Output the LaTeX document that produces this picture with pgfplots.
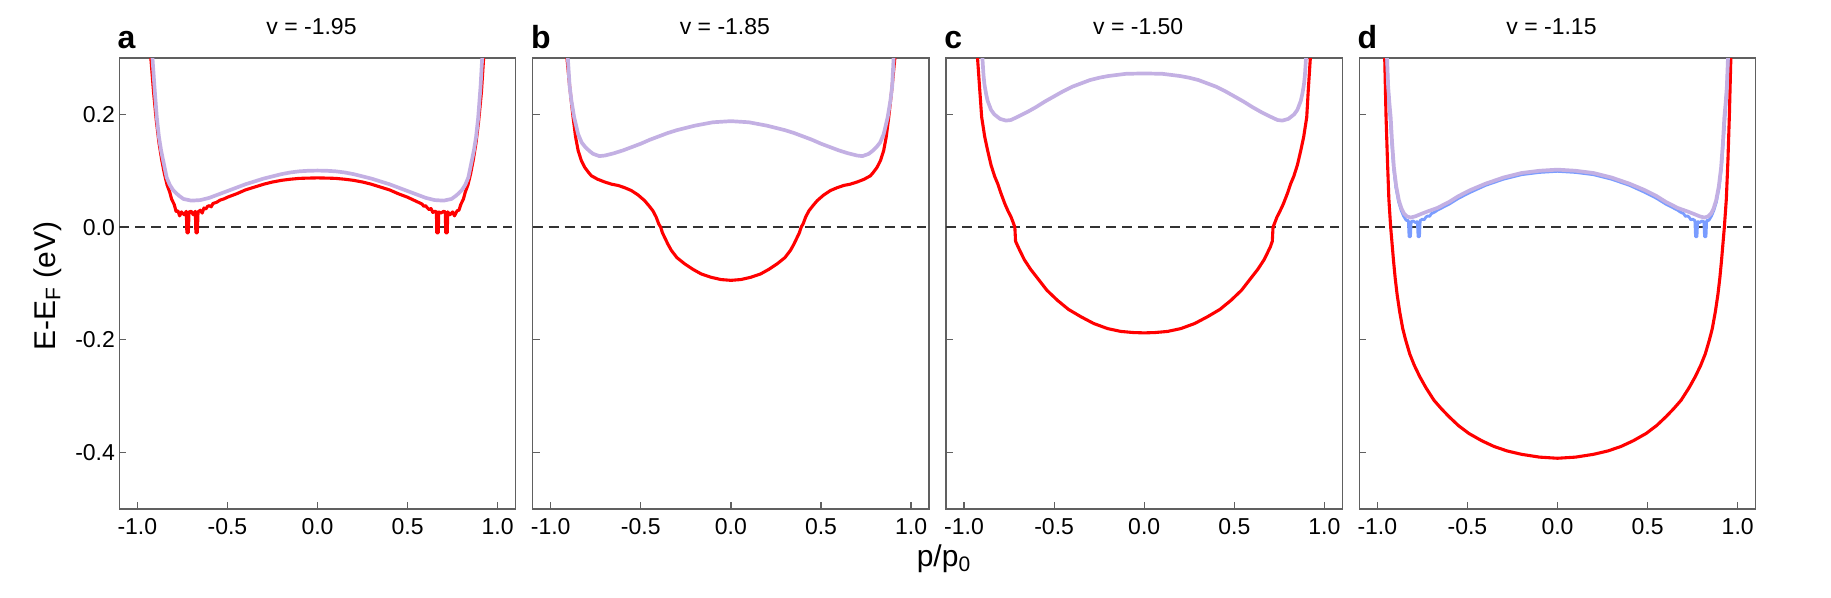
\documentclass[border=0pt]{standalone}
\usepackage{fontspec}
\setmainfont{Liberation Sans}
\usepackage{pgfplots}
\pgfplotsset{compat=1.18}
\definecolor{bandred}{HTML}{FF0000}
\definecolor{lav}{HTML}{C3B0E3}
\definecolor{bandblue}{HTML}{7A9CFF}
\definecolor{axgray}{HTML}{606060}
\pgfplotsset{
  panel/.style={
    scale only axis, width=198.2pt, height=225.5pt,
    anchor=south west,
    xmin=-1.1, xmax=1.1, ymin=-0.5, ymax=0.3,
    xtick={-1,-0.5,0,0.5,1}, xticklabels={-1.0,-0.5,0.0,0.5,1.0},
    ytick={-0.4,-0.2,0,0.2}, yticklabels={},
    tick align=inside, xtick pos=bottom, ytick pos=left,
    major tick length=3.5pt,
    axis line style={draw=axgray, line width=0.7pt},
    tick style={draw=axgray, line width=0.6pt},
    ticklabel style={font=\fontsize{11.5}{13}\selectfont},
    xticklabel style={inner ysep=4.5pt},
    yticklabel style={inner xsep=2pt},
    title style={font=\fontsize{11.5}{13}\selectfont, at={(0.5,1)}, anchor=base, yshift=6pt, xshift=-3pt},
  },
  zero/.style={black!80, line width=0.7pt, dash pattern=on 5pt off 3pt},
  redline/.style={bandred, line width=1.55pt, line join=round},
  lavline/.style={lav, line width=1.85pt, line join=round},
  blueline/.style={bandblue, line width=1.4pt, line join=round},
}
\begin{document}
\begin{tikzpicture}
\path[use as bounding box] (0,0) rectangle (915.5pt,299pt);

% panel a
\begin{axis}[panel, name=pa, at={(59.65pt,44.5pt)}, title={v = -1.95},
  yticklabels={-0.4,-0.2,0.0,0.2}]
\addplot[zero] coordinates {(-1.1,0) (1.08,0)};
\addplot[redline] coordinates {
(-0.927,0.32) (-0.925,0.30) (-0.91,0.24) (-0.895,0.19) (-0.88,0.15) (-0.865,0.12) (-0.85,0.095) (-0.835,0.075) (-0.82,0.062) (-0.81,0.05) (-0.795,0.04) (-0.785,0.028) (-0.775,0.029) (-0.765,0.02) (-0.755,0.027) (-0.74,0.022) (-0.728,0.028) (-0.725,-0.01) (-0.717,-0.01) (-0.713,0.027) (-0.70,0.028) (-0.69,0.022) (-0.678,0.028) (-0.675,-0.01) (-0.667,-0.01) (-0.663,0.027) (-0.65,0.03) (-0.64,0.025) (-0.63,0.034) (-0.62,0.032) (-0.61,0.037) (-0.60,0.038) (-0.59,0.036) (-0.58,0.042) (-0.56,0.044) (-0.54,0.048) (-0.52,0.050) (-0.50,0.053) (-0.45,0.059) (-0.40,0.066) (-0.35,0.071) (-0.30,0.076) (-0.25,0.080) (-0.20,0.083) (-0.15,0.085) (-0.10,0.0865) (-0.05,0.087) (0,0.0873)
(0.05,0.087) (0.10,0.0865) (0.15,0.085) (0.20,0.083) (0.25,0.080) (0.30,0.076) (0.35,0.071) (0.40,0.066) (0.45,0.059) (0.50,0.053) (0.52,0.050) (0.54,0.047) (0.56,0.044) (0.58,0.041) (0.59,0.037) (0.60,0.038) (0.61,0.034) (0.62,0.031) (0.63,0.033) (0.64,0.026) (0.652,0.028) (0.66,0.027) (0.662,-0.01) (0.670,-0.01) (0.673,0.027) (0.685,0.025) (0.70,0.028) (0.709,0.027) (0.712,-0.01) (0.720,-0.01) (0.723,0.027) (0.735,0.022) (0.75,0.027) (0.76,0.020) (0.775,0.029) (0.785,0.03) (0.795,0.04) (0.81,0.05) (0.82,0.062) (0.835,0.075) (0.85,0.095) (0.865,0.12) (0.88,0.15) (0.895,0.19) (0.91,0.24) (0.922,0.30) (0.924,0.32)
};
\addplot[lavline] coordinates {
(-0.918,0.32) (-0.916,0.30) (-0.905,0.25) (-0.892,0.195) (-0.88,0.16) (-0.868,0.136) (-0.85,0.108) (-0.837,0.088) (-0.82,0.075) (-0.80,0.065) (-0.77,0.056) (-0.744,0.050) (-0.70,0.047) (-0.65,0.048) (-0.60,0.052) (-0.55,0.058) (-0.50,0.064) (-0.45,0.070) (-0.40,0.076) (-0.35,0.081) (-0.30,0.086) (-0.25,0.090) (-0.20,0.094) (-0.15,0.097) (-0.10,0.099) (-0.05,0.100) (0,0.1003)
(0.05,0.100) (0.10,0.099) (0.15,0.097) (0.20,0.094) (0.25,0.090) (0.30,0.086) (0.35,0.081) (0.40,0.076) (0.45,0.070) (0.50,0.064) (0.55,0.058) (0.60,0.052) (0.65,0.048) (0.70,0.047) (0.744,0.050) (0.77,0.056) (0.80,0.065) (0.82,0.075) (0.837,0.088) (0.85,0.108) (0.868,0.136) (0.88,0.16) (0.892,0.195) (0.905,0.25) (0.914,0.30) (0.916,0.32)
};
\end{axis}

% panel b
\begin{axis}[panel, name=pb, at={(266.35pt,44.5pt)}, title={v = -1.85}]
\addplot[zero] coordinates {(-1.1,0) (1.08,0)};
\addplot[redline] coordinates {
(-0.912,0.32) (-0.91,0.30) (-0.895,0.25) (-0.876,0.195) (-0.862,0.16) (-0.848,0.136) (-0.83,0.118) (-0.811,0.106) (-0.79,0.097) (-0.774,0.091) (-0.74,0.085) (-0.70,0.080) (-0.66,0.076) (-0.627,0.074) (-0.59,0.070) (-0.553,0.065) (-0.515,0.057) (-0.479,0.047) (-0.455,0.038) (-0.433,0.029) (-0.415,0.018) (-0.401,0.006) (-0.39,0) (-0.38,-0.01) (-0.368,-0.018) (-0.35,-0.03) (-0.331,-0.041) (-0.30,-0.054) (-0.257,-0.065) (-0.21,-0.075) (-0.165,-0.083) (-0.11,-0.089) (-0.055,-0.093) (0,-0.0944)
(0.055,-0.093) (0.11,-0.089) (0.165,-0.083) (0.21,-0.075) (0.257,-0.065) (0.30,-0.054) (0.331,-0.041) (0.35,-0.03) (0.368,-0.018) (0.38,-0.01) (0.39,0) (0.401,0.006) (0.415,0.018) (0.433,0.029) (0.455,0.038) (0.479,0.047) (0.515,0.057) (0.553,0.065) (0.59,0.070) (0.627,0.074) (0.66,0.076) (0.70,0.080) (0.74,0.085) (0.774,0.091) (0.79,0.097) (0.811,0.106) (0.83,0.118) (0.848,0.136) (0.862,0.16) (0.876,0.195) (0.895,0.25) (0.91,0.30) (0.912,0.32)
};
\addplot[lavline] coordinates {
(-0.907,0.32) (-0.905,0.30) (-0.895,0.25) (-0.885,0.224) (-0.87,0.195) (-0.848,0.165) (-0.828,0.15) (-0.808,0.142) (-0.785,0.135) (-0.765,0.13) (-0.73,0.126) (-0.70,0.127) (-0.65,0.131) (-0.60,0.136) (-0.55,0.142) (-0.50,0.148) (-0.45,0.155) (-0.40,0.161) (-0.35,0.167) (-0.30,0.172) (-0.25,0.176) (-0.20,0.180) (-0.15,0.183) (-0.10,0.186) (-0.05,0.187) (0,0.188)
(0.05,0.187) (0.10,0.186) (0.15,0.183) (0.20,0.180) (0.25,0.176) (0.30,0.172) (0.35,0.167) (0.40,0.161) (0.45,0.155) (0.50,0.148) (0.55,0.142) (0.60,0.136) (0.65,0.131) (0.70,0.127) (0.73,0.126) (0.765,0.13) (0.785,0.135) (0.808,0.142) (0.828,0.15) (0.848,0.165) (0.87,0.195) (0.885,0.224) (0.895,0.25) (0.903,0.30) (0.905,0.32)
};
\end{axis}

% panel c
\begin{axis}[panel, name=pc, at={(473pt,44.5pt)}, title={v = -1.50}]
\addplot[zero] coordinates {(-1.1,0) (1.08,0)};
\addplot[redline] coordinates {
(-0.927,0.32) (-0.925,0.30) (-0.912,0.24) (-0.902,0.195) (-0.885,0.16) (-0.869,0.136) (-0.85,0.11) (-0.83,0.09) (-0.813,0.077) (-0.795,0.06) (-0.773,0.041) (-0.755,0.028) (-0.739,0.018) (-0.727,0.008) (-0.718,0) (-0.716,-0.012) (-0.714,-0.025) (-0.70,-0.035) (-0.685,-0.045) (-0.665,-0.058) (-0.63,-0.075) (-0.591,-0.091) (-0.54,-0.112) (-0.481,-0.13) (-0.42,-0.146) (-0.351,-0.159) (-0.28,-0.171) (-0.203,-0.180) (-0.13,-0.185) (-0.06,-0.187) (0,-0.1876)
(0.06,-0.187) (0.13,-0.185) (0.203,-0.180) (0.28,-0.171) (0.351,-0.159) (0.42,-0.146) (0.481,-0.13) (0.54,-0.112) (0.591,-0.091) (0.63,-0.075) (0.665,-0.058) (0.685,-0.045) (0.70,-0.035) (0.711,-0.025) (0.713,-0.012) (0.715,0) (0.725,0.008) (0.737,0.018) (0.753,0.028) (0.772,0.041) (0.795,0.06) (0.813,0.077) (0.83,0.09) (0.85,0.11) (0.869,0.136) (0.885,0.16) (0.902,0.195) (0.91,0.24) (0.922,0.30) (0.924,0.32)
};
\addplot[lavline] coordinates {
(-0.899,0.32) (-0.898,0.30) (-0.892,0.27) (-0.887,0.254) (-0.878,0.237) (-0.869,0.224) (-0.85,0.208) (-0.832,0.20) (-0.80,0.192) (-0.767,0.189) (-0.74,0.190) (-0.70,0.196) (-0.65,0.204) (-0.60,0.213) (-0.55,0.223) (-0.50,0.232) (-0.45,0.241) (-0.40,0.249) (-0.35,0.255) (-0.30,0.261) (-0.25,0.265) (-0.20,0.268) (-0.15,0.270) (-0.10,0.272) (0,0.2726)
(0.10,0.272) (0.15,0.270) (0.20,0.268) (0.25,0.265) (0.30,0.261) (0.35,0.255) (0.40,0.249) (0.45,0.241) (0.50,0.232) (0.55,0.223) (0.60,0.213) (0.65,0.204) (0.70,0.196) (0.74,0.190) (0.767,0.189) (0.80,0.192) (0.832,0.20) (0.85,0.208) (0.869,0.224) (0.878,0.237) (0.887,0.254) (0.892,0.27) (0.898,0.30) (0.899,0.32)
};
\end{axis}

% panel d
\begin{axis}[panel, name=pd, at={(679.65pt,44.5pt)}, title={v = -1.15}]
\addplot[zero] coordinates {(-1.1,0) (1.08,0)};
\addplot[redline] coordinates {
(-0.960,0.32) (-0.959,0.30) (-0.952,0.20) (-0.944,0.12) (-0.936,0.05) (-0.926,0) (-0.918,-0.03) (-0.910,-0.06) (-0.901,-0.09) (-0.890,-0.12) (-0.876,-0.15) (-0.859,-0.18) (-0.843,-0.20) (-0.82,-0.225) (-0.795,-0.245) (-0.765,-0.265) (-0.73,-0.285) (-0.686,-0.307) (-0.645,-0.322) (-0.603,-0.336) (-0.55,-0.352) (-0.492,-0.366) (-0.42,-0.379) (-0.353,-0.389) (-0.28,-0.397) (-0.20,-0.403) (-0.10,-0.408) (0,-0.41)
(0.10,-0.408) (0.20,-0.403) (0.28,-0.397) (0.353,-0.389) (0.42,-0.379) (0.492,-0.366) (0.55,-0.352) (0.603,-0.336) (0.645,-0.322) (0.686,-0.307) (0.73,-0.285) (0.765,-0.265) (0.795,-0.245) (0.82,-0.225) (0.843,-0.20) (0.859,-0.18) (0.876,-0.15) (0.890,-0.12) (0.901,-0.09) (0.910,-0.06) (0.918,-0.03) (0.926,0) (0.937,0.05) (0.946,0.12) (0.954,0.20) (0.962,0.30) (0.963,0.32)
};
\addplot[blueline] coordinates {
(-0.949,0.32) (-0.948,0.30) (-0.935,0.22) (-0.92,0.15) (-0.91,0.105) (-0.897,0.07) (-0.882,0.045) (-0.868,0.03) (-0.855,0.02) (-0.84,0.012) (-0.828,0.012) (-0.824,-0.017) (-0.816,-0.017) (-0.812,0.01) (-0.80,0.011) (-0.79,0.008) (-0.778,0.01) (-0.774,-0.017) (-0.766,-0.017) (-0.762,0.012) (-0.75,0.014) (-0.74,0.013) (-0.73,0.018) (-0.72,0.02) (-0.71,0.019) (-0.70,0.024) (-0.68,0.027) (-0.667,0.030) (-0.60,0.041) (-0.55,0.051) (-0.482,0.062) (-0.40,0.074) (-0.30,0.085) (-0.20,0.093) (-0.10,0.097) (0,0.099)
(0.10,0.097) (0.20,0.093) (0.30,0.085) (0.40,0.074) (0.482,0.062) (0.55,0.051) (0.60,0.041) (0.667,0.030) (0.68,0.027) (0.70,0.024) (0.71,0.019) (0.72,0.02) (0.73,0.018) (0.74,0.013) (0.75,0.014) (0.762,0.012) (0.766,-0.017) (0.774,-0.017) (0.778,0.01) (0.79,0.008) (0.80,0.011) (0.812,0.01) (0.816,-0.017) (0.824,-0.017) (0.828,0.012) (0.84,0.012) (0.855,0.02) (0.868,0.03) (0.882,0.045) (0.897,0.07) (0.91,0.105) (0.92,0.15) (0.935,0.22) (0.948,0.30) (0.949,0.32)
};
\addplot[lavline] coordinates {
(-0.947,0.32) (-0.946,0.30) (-0.94,0.25) (-0.933,0.22) (-0.926,0.195) (-0.918,0.15) (-0.908,0.106) (-0.895,0.072) (-0.88,0.047) (-0.866,0.033) (-0.852,0.024) (-0.835,0.019) (-0.815,0.017) (-0.79,0.019) (-0.76,0.023) (-0.72,0.028) (-0.667,0.034) (-0.60,0.045) (-0.55,0.055) (-0.482,0.066) (-0.40,0.077) (-0.30,0.088) (-0.20,0.096) (-0.10,0.100) (0,0.102)
(0.10,0.100) (0.20,0.096) (0.30,0.088) (0.40,0.077) (0.482,0.066) (0.55,0.055) (0.60,0.045) (0.667,0.034) (0.72,0.028) (0.76,0.023) (0.79,0.019) (0.815,0.017) (0.835,0.019) (0.852,0.024) (0.866,0.033) (0.88,0.047) (0.895,0.072) (0.908,0.106) (0.918,0.15) (0.926,0.195) (0.933,0.22) (0.94,0.25) (0.946,0.30) (0.947,0.32)
};
\end{axis}

% panel letters and shared labels
\foreach \p/\l in {pa/a,pb/b,pc/c,pd/d}
  \node[anchor=base west, inner sep=0pt, xshift=-1pt, yshift=5pt,
        font=\bfseries\fontsize{16}{18}\selectfont] at (\p.north west) {\l};
\node[rotate=90, font=\fontsize{15}{17}\selectfont] at (24pt,156pt) {E-E\textsubscript{F} (eV)};
\node[anchor=base, font=\fontsize{15}{17}\selectfont] at (472pt,15.5pt) {p/p\textsubscript{0}};
\end{tikzpicture}
\end{document}
